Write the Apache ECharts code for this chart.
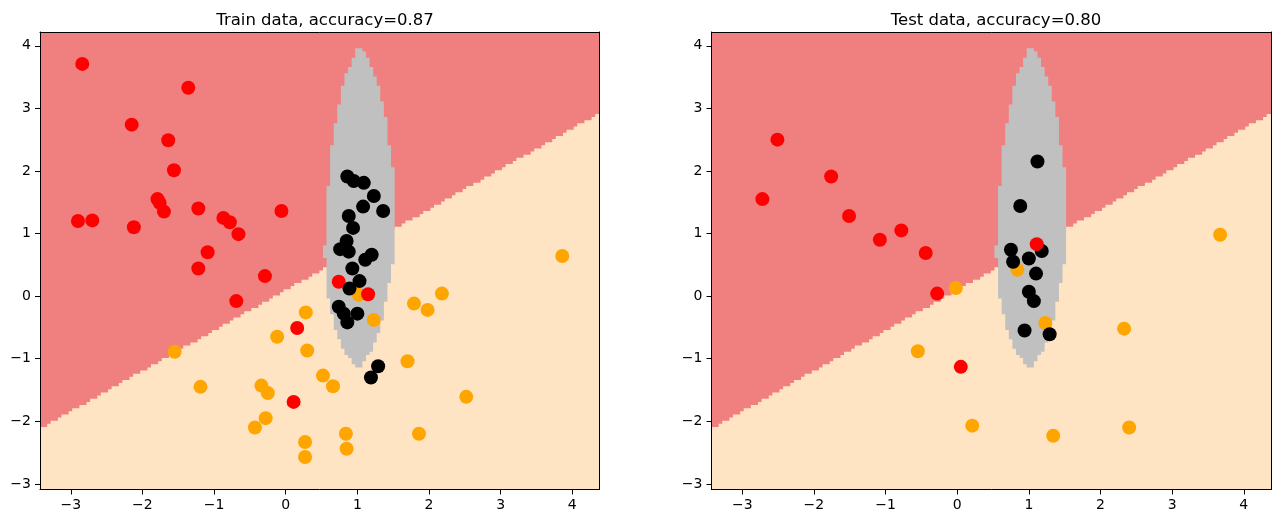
<!DOCTYPE html>
<html>
<head>
<meta charset="utf-8">
<script src="https://cdn.jsdelivr.net/npm/echarts@6/dist/echarts.min.js"></script>
<style>
html, body { margin: 0; padding: 0; background: #fff; }
#demo { width: 1280px; height: 523px; }
</style>
</head>
<body>
<div id="demo"></div>
<script>
var xTicks = [-3, -2, -1, 0, 1, 2, 3, 4];
var yTicks = [-3, -2, -1, 0, 1, 2, 3, 4];
var xRange = [-3.43, 4.38];
var yRange = [-3.09, 4.22];
var cellSize = 0.05;

// red / orange border
var lineX = [-3.43, 4.38];
var lineY = [-2.12, 2.92];

// grey region: left and right edge for some y values
var silverY     = [-1.16, -1.10, -0.86, -0.44, 0.10, 0.70, 1.85, 2.30, 2.92, 3.45, 3.96];
var silverLeft  = [ 1.00,  0.95,  0.81,  0.67, 0.57, 0.54, 0.60, 0.63, 0.72, 0.81, 1.00];
var silverRight = [ 1.06,  1.07,  1.20,  1.34, 1.43, 1.53, 1.52, 1.46, 1.39, 1.27, 1.08];

var trainRed = [
    [-2.84, 3.71], [-1.36, 3.33], [-2.15, 2.74], [-1.64, 2.49], [-1.56, 2.01],
    [-1.79, 1.55], [-1.76, 1.49], [-1.70, 1.35], [-2.90, 1.20], [-2.70, 1.21],
    [-2.12, 1.10], [-1.22, 1.40], [-0.87, 1.25], [-0.78, 1.18], [-0.66, 0.99],
    [-0.06, 1.36], [-1.09, 0.70], [-1.22, 0.44], [-0.29, 0.32], [-0.69, -0.08],
    [0.16, -0.51], [0.11, -1.69], [0.74, 0.23], [1.15, 0.03]
];
var trainOrange = [
    [-1.55, -0.89], [-1.19, -1.45], [-0.12, -0.65], [0.28, -0.26], [0.30, -0.87],
    [0.52, -1.27], [-0.34, -1.43], [-0.25, -1.55], [-0.28, -1.95], [-0.43, -2.10],
    [0.27, -2.33], [0.27, -2.57], [0.66, -1.44], [0.84, -2.20], [0.85, -2.44],
    [1.23, -0.38], [1.70, -1.04], [1.79, -0.12], [1.98, -0.22], [2.18, 0.04],
    [1.86, -2.20], [2.52, -1.61], [3.86, 0.64], [1.02, 0.02]
];
var trainBlack = [
    [0.86, 1.91], [0.95, 1.84], [1.09, 1.81], [1.23, 1.60], [1.08, 1.43],
    [1.36, 1.36], [0.88, 1.28], [0.94, 1.09], [0.85, 0.88], [0.76, 0.75],
    [0.88, 0.71], [1.20, 0.66], [1.11, 0.58], [0.93, 0.44], [1.03, 0.24],
    [0.89, 0.12], [0.74, -0.17], [0.81, -0.28], [1.00, -0.28], [0.86, -0.42],
    [1.29, -1.12], [1.19, -1.30]
];

var testRed = [
    [-2.51, 2.50], [-1.76, 1.91], [-2.72, 1.55], [-1.51, 1.28], [-1.08, 0.90],
    [-0.78, 1.05], [-0.44, 0.69], [-0.28, 0.04], [1.11, 0.83], [0.05, -1.13]
];
var testOrange = [
    [-0.02, 0.13], [-0.55, -0.88], [0.21, -2.07], [1.34, -2.23], [2.40, -2.10],
    [2.33, -0.52], [3.67, 0.98], [0.84, 0.42], [1.23, -0.43]
];
var testBlack = [
    [1.12, 2.15], [0.88, 1.44], [0.75, 0.74], [0.78, 0.55], [1.00, 0.60],
    [1.18, 0.72], [1.10, 0.36], [1.00, 0.07], [1.07, -0.08], [0.94, -0.55],
    [1.29, -0.61]
];

var colRed = '#ff0000', colOrange = '#ffa500', colBlack = '#000000';
var bgRed = '#f08080', bgOrange = '#ffe4c4', bgSilver = '#c0c0c0';

function interp(xs, ys, x) {
    if (x <= xs[0]) return ys[0];
    for (var i = 1; i < xs.length; i++) {
        if (x <= xs[i]) {
            var t = (x - xs[i - 1]) / (xs[i] - xs[i - 1]);
            return ys[i - 1] + t * (ys[i] - ys[i - 1]);
        }
    }
    return ys[ys.length - 1];
}

// polygons of the regions, stepped like the mesh of the classifier plot
function buildRegions() {
    var h = cellSize;
    var nx = Math.ceil((xRange[1] - xRange[0]) / h);
    var ny = Math.ceil((yRange[1] - yRange[0]) / h);
    var full = [[xRange[0], yRange[0]], [xRange[1], yRange[0]], [xRange[1], yRange[1]], [xRange[0], yRange[1]]];

    var red = [[xRange[0], yRange[1]]];
    for (var i = 0; i < nx; i++) {
        var x0 = xRange[0] + i * h;
        var x1 = Math.min(x0 + h, xRange[1]);
        var ly = interp(lineX, lineY, x0 + h / 2);
        var j = Math.floor((ly - yRange[0]) / h - 0.5) + 1;
        var yb = Math.max(yRange[0], Math.min(yRange[1], yRange[0] + j * h));
        red.push([x0, yb]);
        red.push([x1, yb]);
    }
    red.push([xRange[1], yRange[1]]);

    var leftSide = [], rightSide = [];
    for (var r = 0; r < ny; r++) {
        var yc = yRange[0] + (r + 0.5) * h;
        if (yc < silverY[0] || yc > silverY[silverY.length - 1]) continue;
        var L = interp(silverY, silverLeft, yc);
        var R = interp(silverY, silverRight, yc);
        var iL = Math.ceil((L - xRange[0]) / h - 0.5);
        var iR = Math.floor((R - xRange[0]) / h - 0.5);
        if (iL > iR) continue;
        var yb2 = yRange[0] + r * h, yt2 = yb2 + h;
        var lx = xRange[0] + iL * h, rx = xRange[0] + (iR + 1) * h;
        leftSide.push([lx, yb2], [lx, yt2]);
        rightSide.push([rx, yb2], [rx, yt2]);
    }
    var silver = leftSide.concat(rightSide.reverse());

    return [
        {points: full, color: bgOrange},
        {points: red, color: bgRed},
        {points: silver, color: bgSilver}
    ];
}

var regions = buildRegions();

function fmt(v) {
    return v < 0 ? '\u2212' + Math.abs(v) : String(v);
}

function mainX(gi) {
    return {
        type: 'value', gridIndex: gi, min: xRange[0], max: xRange[1], position: 'bottom', z: 10,
        axisLine: {show: true, onZero: false, lineStyle: {color: '#000', width: 1}},
        axisTick: {show: true, length: 5, customValues: xTicks, lineStyle: {color: '#000', width: 1}},
        axisLabel: {customValues: xTicks, margin: 9, color: '#000', fontSize: 14, fontFamily: 'DejaVu Sans', formatter: fmt},
        splitLine: {show: false}
    };
}
function mainY(gi) {
    return {
        type: 'value', gridIndex: gi, min: yRange[0], max: yRange[1], position: 'left', z: 10,
        axisLine: {show: true, onZero: false, lineStyle: {color: '#000', width: 1}},
        axisTick: {show: true, length: 5, customValues: yTicks, lineStyle: {color: '#000', width: 1}},
        axisLabel: {customValues: yTicks, margin: 9, color: '#000', fontSize: 14, fontFamily: 'DejaVu Sans', formatter: fmt},
        splitLine: {show: false}
    };
}
function frameAxis(type, gi, pos, range) {
    return {
        type: 'value', gridIndex: gi, min: range[0], max: range[1], position: pos, z: 10,
        axisLine: {show: true, onZero: false, lineStyle: {color: '#000', width: 1}},
        axisTick: {show: false}, axisLabel: {show: false}, splitLine: {show: false}
    };
}

function regionSeries(gi) {
    return {
        type: 'custom',
        xAxisIndex: gi * 2, yAxisIndex: gi * 2,
        silent: true, clip: true, z: 1,
        data: regions.map(function (r, i) { return [i]; }),
        renderItem: function (params, api) {
            var reg = regions[params.dataIndex];
            var pts = reg.points.map(function (p) { return api.coord(p); });
            return {type: 'polygon', shape: {points: pts}, style: {fill: reg.color, stroke: null}};
        }
    };
}

function dots(gi, data, color) {
    return {
        type: 'scatter', xAxisIndex: gi * 2, yAxisIndex: gi * 2, z: 3,
        symbolSize: 14, data: data,
        itemStyle: {color: color, opacity: 1},
        emphasis: {disabled: true}
    };
}

var mychar = echarts.init(document.getElementById('demo'));
mychar.setOption({
    animation: false,
    backgroundColor: '#fff',
    title: [
        {text: 'Train data, accuracy=0.87', left: 320, top: 7, textAlign: 'center',
         textStyle: {fontSize: 16.5, fontWeight: 'normal', color: '#000', fontFamily: 'DejaVu Sans'}},
        {text: 'Test data, accuracy=0.80', left: 991, top: 7, textAlign: 'center',
         textStyle: {fontSize: 16.5, fontWeight: 'normal', color: '#000', fontFamily: 'DejaVu Sans'}}
    ],
    grid: [
        {left: 40, top: 32, width: 559.5, height: 457.5},
        {left: 711.5, top: 32, width: 559.5, height: 457.5}
    ],
    xAxis: [mainX(0), frameAxis('x', 0, 'top', xRange), mainX(1), frameAxis('x', 1, 'top', xRange)],
    yAxis: [mainY(0), frameAxis('y', 0, 'right', yRange), mainY(1), frameAxis('y', 1, 'right', yRange)],
    series: [
        regionSeries(0),
        dots(0, trainOrange, colOrange),
        dots(0, trainRed, colRed),
        dots(0, trainBlack, colBlack),
        regionSeries(1),
        dots(1, testOrange, colOrange),
        dots(1, testBlack, colBlack),
        dots(1, testRed, colRed)
    ]
});
</script>
</body>
</html>
